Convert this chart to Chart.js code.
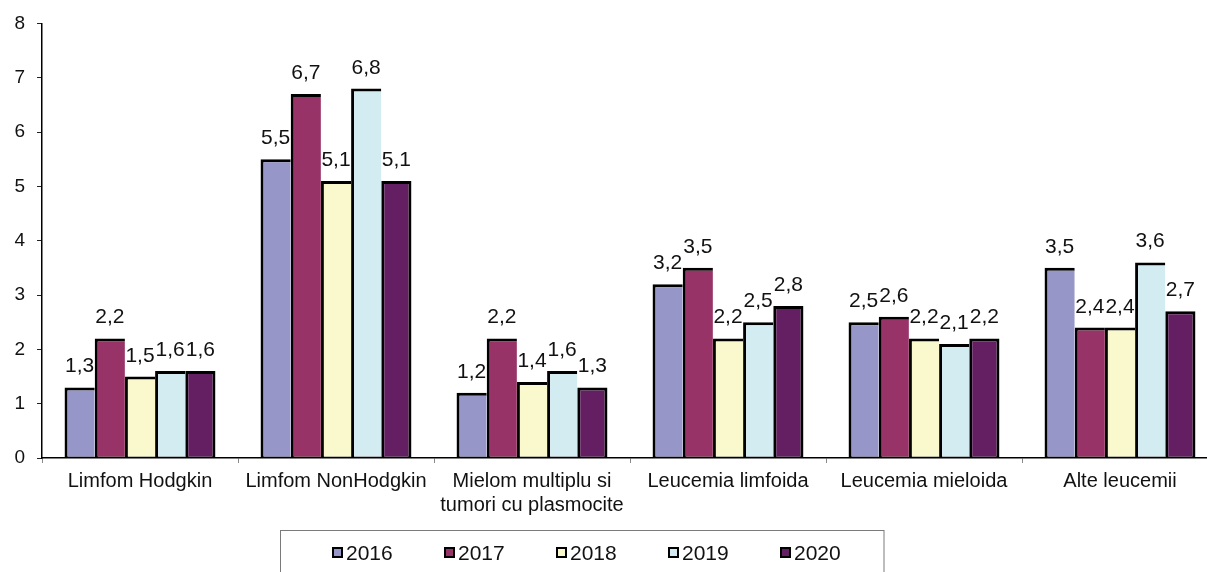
<!DOCTYPE html>
<html>
<head>
<meta charset="utf-8">
<script src="https://cdn.jsdelivr.net/npm/chart.js@4.4.1/dist/chart.umd.min.js"></script>
<style>
  html, body { margin: 0; padding: 0; background: #ffffff; }
  #wrap { width: 1207px; height: 572px; overflow: hidden; position: relative; }
  canvas { display: block; }
</style>
</head>
<body>
<div id="wrap"><canvas id="c" width="1218" height="572"></canvas></div>
<script>
// ---- data ----
const categories = [
  'Limfom Hodgkin',
  'Limfom NonHodgkin',
  ['Mielom multiplu si', 'tumori cu plasmocite'],
  'Leucemia limfoida',
  'Leucemia mieloida',
  'Alte leucemii'
];
const seriesNames = ['2016', '2017', '2018', '2019', '2020'];
const values2016 = [1.3, 5.5, 1.2, 3.2, 2.5, 3.5];
const values2017 = [2.2, 6.7, 2.2, 3.5, 2.6, 2.4];
const values2018 = [1.5, 5.1, 1.4, 2.2, 2.2, 2.4];
const values2019 = [1.6, 6.8, 1.6, 2.5, 2.1, 3.6];
const values2020 = [1.6, 5.1, 1.3, 2.8, 2.2, 2.7];
const yTicks = [0, 1, 2, 3, 4, 5, 6, 7, 8];

const seriesValues = [values2016, values2017, values2018, values2019, values2020];
const colors = ['#9696C8', '#973366', '#FAF9CD', '#D3ECF2', '#631F62'];
const FONT = "'Liberation Sans', Arial, sans-serif";

const datasets = seriesNames.map((name, i) => ({
  label: name,
  data: seriesValues[i],
  backgroundColor: colors[i],
  borderColor: '#000000',
  borderWidth: i === seriesNames.length - 1
    ? { top: 3, left: 3, right: 3, bottom: 1 }
    : { top: 3, left: 3, right: 0, bottom: 1 },
  borderSkipped: false,
  barPercentage: 1.0,
  categoryPercentage: 0.77
}));

const fmt = v => String(v).replace('.', ',');

const valueLabels = {
  id: 'valueLabels',
  afterDatasetsDraw(chart) {
    const ctx = chart.ctx;
    ctx.save();
    ctx.font = '21px ' + FONT;
    ctx.fillStyle = '#111111';
    ctx.textAlign = 'center';
    ctx.textBaseline = 'alphabetic';
    chart.data.datasets.forEach((ds, i) => {
      const meta = chart.getDatasetMeta(i);
      meta.data.forEach((bar, j) => {
        ctx.fillText(fmt(ds.data[j]), bar.x, bar.y - 15);
      });
    });
    ctx.restore();
  }
};

const boxLegend = {
  id: 'boxLegend',
  afterDraw(chart) {
    const ctx = chart.ctx;
    ctx.save();
    ctx.strokeStyle = '#7a7a7a';
    ctx.lineWidth = 1;
    ctx.strokeRect(280.5, 530.5, 603.5, 60);
    ctx.font = '21px ' + FONT;
    ctx.textAlign = 'left';
    ctx.textBaseline = 'alphabetic';
    chart.data.datasets.forEach((ds, i) => {
      const mx = 332 + i * 112;
      const my = 547;
      ctx.fillStyle = '#000000';
      ctx.fillRect(mx, my, 11, 11);
      ctx.fillStyle = ds.backgroundColor;
      ctx.fillRect(mx + 2, my + 2, 7, 7);
      ctx.fillStyle = '#111111';
      ctx.fillText(ds.label, mx + 14, 560);
    });
    ctx.restore();
  }
};

new Chart(document.getElementById('c'), {
  type: 'bar',
  data: { labels: categories, datasets },
  options: {
    responsive: false,
    animation: false,
    devicePixelRatio: 1,
    layout: { padding: { left: 0, right: 0, top: 20, bottom: 0 } },
    plugins: {
      legend: { display: false },
      tooltip: { enabled: false }
    },
    scales: {
      x: {
        offset: true,
        grid: {
          display: true,
          offset: true,
          drawOnChartArea: false,
          drawTicks: true,
          tickLength: 5,
          color: '#8a8a8a'
        },
        border: { display: true, color: '#000000', width: 1.5 },
        ticks: {
          color: '#111111',
          padding: 6,
          maxRotation: 0,
          autoSkip: false,
          font: { family: FONT, size: 20, lineHeight: 1.2 }
        },
        afterFit(s) { s.height = 114; }
      },
      y: {
        min: 0,
        max: 8,
        afterBuildTicks(s) { s.ticks = yTicks.map(v => ({ value: v })); },
        grid: {
          display: true,
          drawOnChartArea: false,
          drawTicks: true,
          tickLength: 5,
          color: '#222222'
        },
        border: { display: true, color: '#000000', width: 1.5 },
        ticks: {
          color: '#111111',
          padding: 12,
          font: { family: FONT, size: 19 }
        },
        afterFit(s) { s.width = 42; }
      }
    }
  },
  plugins: [valueLabels, boxLegend]
});
</script>
</body>
</html>
